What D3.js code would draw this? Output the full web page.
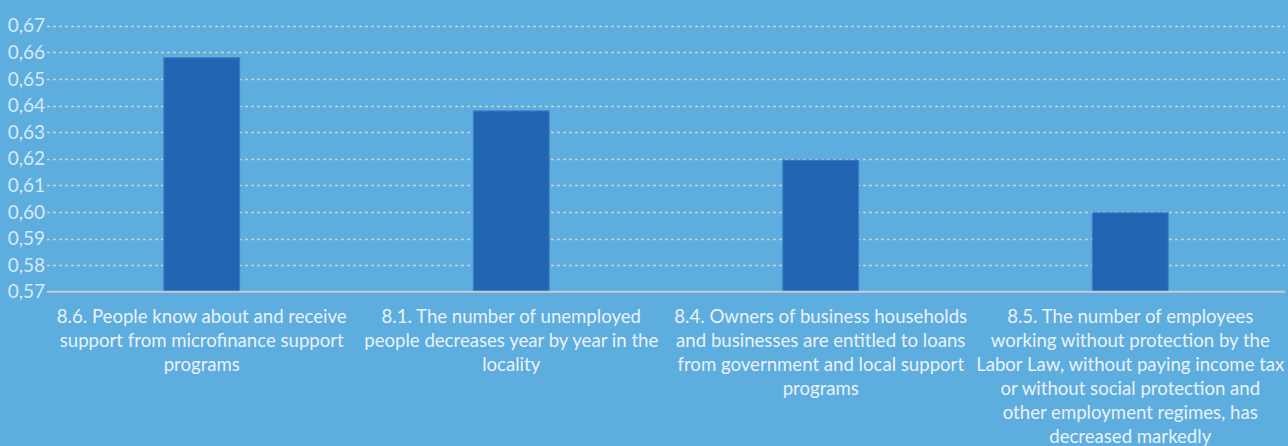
<!DOCTYPE html>
<html><head><meta charset="utf-8">
<script src="https://cdn.jsdelivr.net/npm/d3@7"></script>
<style>
html,body{margin:0;padding:0;background:#5DADDF;}
svg{display:block;}
</style></head>
<body>
<svg id="chart" width="1288" height="446"></svg>
<script>
const categories = ["8.6", "8.1", "8.4", "8.5"];
const categoryLabels = [
  ["8.6. People know about and receive", "support from microfinance support", "programs"],
  ["8.1. The number of unemployed", "people decreases year by year in the", "locality"],
  ["8.4. Owners of business households", "and businesses are entitled to loans", "from government and local support", "programs"],
  ["8.5. The number of employees", "working without protection by the", "Labor Law, without paying income tax", "or without social protection and", "other employment regimes, has", "decreased markedly"]
];
const values = [0.658, 0.638, 0.6195, 0.5997];
const yTicks = [0.57, 0.58, 0.59, 0.60, 0.61, 0.62, 0.63, 0.64, 0.65, 0.66, 0.67];
const yTickLabels = ["0,57","0,58","0,59","0,60","0,61","0,62","0,63","0,64","0,65","0,66","0,67"];

const W = 1288, H = 446;
const m = {left: 47, right: 3, top: 26, bottom: 155};
const svg = d3.select("#chart");
svg.append("rect").attr("width", W).attr("height", H).attr("fill", "#5DADDF");

const x = d3.scaleBand().domain(categories).range([m.left, W - m.right]).padding(0);
const y = d3.scaleLinear().domain([0.57, 0.67]).range([H - m.bottom + 0.8, m.top - 0.2]);

// gridlines
svg.append("g").selectAll("line").data(yTicks.slice(1)).join("line")
  .attr("x1", m.left).attr("x2", W - m.right)
  .attr("y1", d => Math.round(y(d)) + 0.5).attr("y2", d => Math.round(y(d)) + 0.5)
  .attr("stroke", "#CDCFD0").attr("stroke-width", 1.4).attr("stroke-dasharray", "3,3");

// bars
const bw = x.bandwidth() * 0.245;
svg.append("g").selectAll("rect").data(values).join("rect")
  .attr("x", (d, i) => x(categories[i]) + x.bandwidth() / 2 - bw / 2)
  .attr("width", bw)
  .attr("y", d => y(d))
  .attr("height", d => y(0.57) - y(d))
  .attr("fill", "#2265B2")
  .attr("stroke", "#3A7DC4").attr("stroke-width", 1);

// y axis labels
const yAxis = d3.axisLeft(y).tickValues(yTicks).tickFormat((d, i) => yTickLabels[i]).tickSize(0).tickPadding(2);
const gy = svg.append("g").attr("transform", `translate(${m.left},0)`).call(yAxis);
gy.select(".domain").remove();
gy.selectAll("text").attr("fill", "#D8EAF7").style("font-family", "Lato, 'Open Sans', sans-serif").style("font-size", "19px");

svg.append("line").attr("x1", m.left).attr("x2", W - m.right)
  .attr("y1", y(0.57)).attr("y2", y(0.57))
  .attr("stroke", "#C8CCD0").attr("stroke-width", 2);

// category labels
const xg = svg.append("g");
categories.forEach((c, i) => {
  const t = xg.append("text")
    .attr("x", x(c) + x.bandwidth() / 2)
    .attr("y", 323)
    .attr("text-anchor", "middle")
    .attr("fill", "#EAF2FA")
    .style("font-family", "Lato, 'Open Sans', sans-serif")
    .style("font-size", "18.6px");
  categoryLabels[i].forEach((line, j) => {
    t.append("tspan").attr("x", x(c) + x.bandwidth() / 2).attr("y", 323 + j * 23.9).text(line);
  });
});
</script>
</body></html>
